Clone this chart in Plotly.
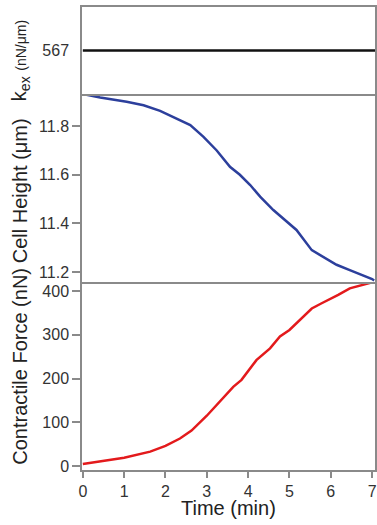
import plotly.graph_objects as go

# ---- data ----
kex_time = [0, 7.07]
kex_value = [567, 567]

height_time = [0.0, 0.06, 0.42, 1.06, 1.47, 1.87, 2.19, 2.6, 2.92, 3.24, 3.56, 3.8, 4.05,
               4.29, 4.61, 4.93, 5.17, 5.54, 5.82, 6.14, 6.46, 6.78, 7.0, 7.05]
height_um = [11.932, 11.93, 11.918, 11.90, 11.886, 11.863, 11.838, 11.804, 11.756, 11.70,
             11.633, 11.60, 11.558, 11.51, 11.455, 11.407, 11.373, 11.29, 11.263, 11.23,
             11.208, 11.188, 11.171, 11.165]

force_time = [0.0, 0.5, 1.0, 1.63, 2.0, 2.35, 2.63, 3.0, 3.32, 3.64, 3.84, 4.0, 4.2, 4.53,
              4.77, 5.0, 5.25, 5.54, 5.78, 5.98, 6.18, 6.46, 6.78, 7.05]
force_nN = [4.6, 12, 19, 33, 46, 63, 81, 115, 149, 181, 197, 216, 242, 269, 296, 311,
            334, 360, 372, 381, 391, 406, 415, 421]

x_ticks = [0, 1, 2, 3, 4, 5, 6, 7]
height_ticks = [11.2, 11.4, 11.6, 11.8]
force_ticks = [0, 100, 200, 300, 400]
kex_ticks = [567]

FONT = "Liberation Sans, Arial, sans-serif"
FRAME = "#8a8a8a"
TICKFONT = dict(family=FONT, size=16, color="#333333")

fig = go.Figure()
fig.add_trace(go.Scatter(x=kex_time, y=kex_value, mode="lines",
                         line=dict(color="#111111", width=2.5), xaxis="x3", yaxis="y3"))
fig.add_trace(go.Scatter(x=height_time, y=height_um, mode="lines",
                         line=dict(color="#2c3f9c", width=2.5), xaxis="x2", yaxis="y2"))
fig.add_trace(go.Scatter(x=force_time, y=force_nN, mode="lines",
                         line=dict(color="#e31a1c", width=2.5), xaxis="x", yaxis="y"))

xr = [-0.02, 7.07]
d_bot = [0, 0.406]
d_mid = [0.406, 0.812]
d_top = [0.812, 1.0]

common_x = dict(range=xr, showline=True, linecolor=FRAME, linewidth=1.5,
                showgrid=False, zeroline=False, automargin=False)
common_y = dict(showline=True, mirror=True, linecolor=FRAME, linewidth=1.5,
                showgrid=False, zeroline=False, tickfont=TICKFONT, automargin=False)

fig.update_layout(
    width=377, height=525,
    margin=dict(l=82, r=2, t=7, b=55, autoexpand=False),
    paper_bgcolor="white", plot_bgcolor="white",
    showlegend=False,
    font=dict(family=FONT, color="#222222"),
    xaxis=dict(**common_x, domain=[0, 1], anchor="y", tickvals=x_ticks, ticks="outside",
               ticklen=6, tickcolor=FRAME, tickwidth=1.5, tickfont=TICKFONT),
    yaxis=dict(**common_y, domain=d_bot, anchor="x", range=[-9, 420.5], tickvals=force_ticks,
               ticks="outside", ticklen=8, tickcolor=FRAME, tickwidth=1.5),
    xaxis2=dict(**common_x, domain=[0, 1], anchor="y2", showticklabels=False),
    yaxis2=dict(**common_y, domain=d_mid, anchor="x2", range=[11.159, 11.932],
                tickvals=height_ticks, tickformat=".1f",
                ticks="outside", ticklen=8, tickcolor=FRAME, tickwidth=1.5),
    xaxis3=dict(**common_x, domain=[0, 1], anchor="y3", showticklabels=False, mirror=True),
    yaxis3=dict(**common_y, domain=d_top, anchor="x3", range=[557, 577], tickvals=kex_ticks,
                ticks="outside", ticklen=8, tickcolor="rgba(0,0,0,0)"),
)

title_font = dict(family=FONT, size=20, color="#222222")
tx = -0.212
fig.add_annotation(text="Contractile Force (nN)", xref="paper", yref="paper", x=tx, y=0.225,
                   textangle=-90, showarrow=False, font=title_font, xanchor="center", yanchor="middle")
fig.add_annotation(text="Cell Height (μm)", xref="paper", yref="paper", x=tx, y=0.604,
                   textangle=-90, showarrow=False, font=title_font, xanchor="center", yanchor="middle")
fig.add_annotation(text="k<sub>ex</sub> <span style='font-size:14px'>(nN/μm)</span>",
                   xref="paper", yref="paper", x=tx, y=0.885,
                   textangle=-90, showarrow=False, font=title_font, xanchor="center", yanchor="middle")
fig.add_annotation(text="Time (min)", xref="paper", yref="paper", x=0.5, y=-0.082,
                   showarrow=False, font=title_font, xanchor="center", yanchor="middle")

fig.write_html("out.html", config={"displayModeBar": False},
               post_script="document.body.style.margin='0px';")
